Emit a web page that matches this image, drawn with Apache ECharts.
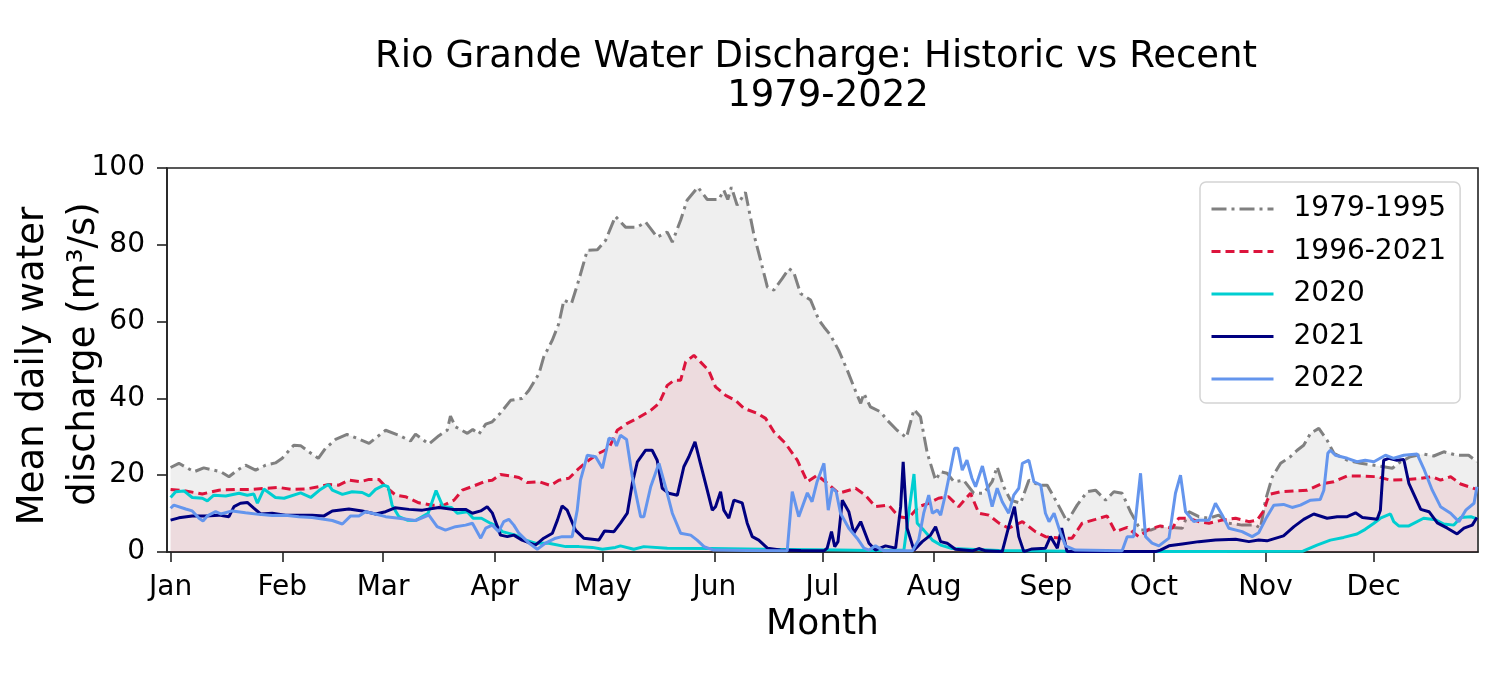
<!DOCTYPE html>
<html>
<head>
<meta charset="utf-8">
<script src="https://cdn.jsdelivr.net/npm/echarts@6/dist/echarts.min.js"></script>
<style>html,body{margin:0;padding:0;background:#fff}#c{width:1500px;height:675px}</style>
</head>
<body>
<div id="c"></div>
<script>
// ---- tick labels ----
const monthStarts = [0, 31, 59, 90, 120, 151, 181, 212, 243, 273, 304, 334];
const monthNames = ['Jan','Feb','Mar','Apr','May','Jun','Jul','Aug','Sep','Oct','Nov','Dec'];
const seriesNames = ['1979-1995', '1996-2021', '2020', '2021', '2022'];

// ---- data: [day of year, mean daily discharge m3/s] ----
const hist7995 = [[0,22.0],[2.3,23.1],[6.5,20.9],[9.2,21.9],[13.9,20.9],[16.2,19.6],[18.5,21.3],[20.8,22.6],[23.6,21.3],[26.4,22.6],[29.1,23.2],[31,24.4],[34.2,27.8],[36.1,27.7],[38.4,26.1],[41,24.4],[43,27.0],[45.8,29.3],[49,30.6],[51.8,29.6],[55.1,28.3],[57.4,30.0],[59.7,31.7],[63.4,30.4],[66.6,28.9],[68,30.7],[71.7,28.1],[74.5,30.3],[76.8,31.7],[77.7,35.4],[79.1,32.6],[82.4,30.9],[83.9,31.9],[85.6,30.7],[87.5,33.3],[89.3,33.9],[91.6,36.2],[94.4,39.5],[97.6,40.0],[99.5,42.1],[102.3,46.5],[103.6,50.8],[106,55.2],[107.8,59.5],[109.2,65.6],[111.3,64.7],[113.4,71.0],[115.7,78.6],[118.5,78.7],[120.8,81.2],[123.5,87.4],[126.3,84.6],[129.6,84.6],[131.9,85.9],[135.1,82.0],[137.9,83.3],[139.3,80.7],[141.6,86.4],[143.4,91.6],[146.4,95.0],[149,91.8],[152.2,91.8],[153.6,94.2],[154.7,91.8],[155.7,95.0],[157.3,90.3],[159.6,93.7],[161.9,82.9],[163.8,76.0],[165.7,69.0],[167.5,68.2],[169.8,71.2],[171.7,73.8],[173,72.9],[174.9,67.3],[177.7,65.6],[180,60.4],[181.4,58.6],[183.2,56.5],[185.5,52.5],[187.9,47.3],[189.7,43.0],[191.6,38.7],[192.5,41.3],[194.3,37.8],[197.1,36.5],[199,34.3],[201.7,31.7],[204.3,29.8],[206.4,37.1],[208.2,35.2],[210.1,25.7],[212.4,18.7],[213.8,20.9],[215.6,20.5],[217.5,18.3],[220.2,18.7],[223,15.3],[225.8,15.3],[228.1,18.3],[229.5,22.2],[231.3,17.0],[233.2,13.5],[236,12.7],[238.3,18.7],[241.1,17.4],[243.4,17.4],[246.2,12.7],[248.9,7.9],[251.7,12.2],[254.5,15.7],[256.8,16.1],[259.6,13.5],[261.9,15.7],[264.2,15.3],[266.5,10.5],[269.3,5.7],[272.1,5.7],[274.8,6.6],[278.1,6.4],[280.9,6.2],[282.7,10.5],[285.5,9.2],[288.3,8.8],[291,9.6],[293.8,7.5],[297.5,7.0],[301.2,7.0],[302.6,6.2],[304,13.5],[305.9,19.6],[308.2,23.1],[310.9,24.8],[312.8,26.5],[314.6,27.8],[316.5,30.9],[318.8,32.2],[321.1,29.1],[323,25.7],[326.7,23.9],[330.4,23.1],[334.1,22.6],[336.8,22.2],[339.2,21.8],[341.5,23.5],[344.2,24.8],[347.9,25.5],[350.7,25.0],[353.5,26.1],[357.2,25.2],[360.4,25.2],[362.7,23.5]];

const hist9621 = [[0,16.3],[4.2,15.9],[8.8,15.1],[13.4,16.1],[18,16.3],[22.7,16.3],[26.4,16.6],[30.1,16.8],[33.8,16.3],[37.5,16.4],[41.2,17.0],[43.9,17.6],[46.7,17.4],[49.5,18.7],[52.7,18.3],[55.1,18.9],[57.8,18.9],[60.2,16.6],[62.5,14.8],[65.2,14.4],[68.9,12.8],[72.6,12.2],[75.9,12.2],[78.7,13.5],[81,16.1],[84.2,17.2],[87.5,18.5],[89.3,18.7],[91.6,20.2],[94.4,19.8],[96.7,19.4],[99,18.1],[102.3,18.3],[105.5,17.3],[107.8,18.7],[110.6,19.2],[113.4,21.8],[116.1,23.9],[118.9,25.7],[121.7,27.0],[124,31.7],[126.8,33.5],[129.6,34.8],[133.3,36.9],[135.6,38.7],[137.9,43.4],[139.8,44.7],[141.6,44.7],[143,49.5],[145.3,51.2],[147.1,49.5],[149.4,47.3],[151.3,43.0],[154.1,40.8],[156.8,39.5],[159.2,37.4],[162.9,36.1],[165.2,34.8],[167.5,31.3],[170.7,28.3],[174,23.9],[176.8,18.3],[179.5,20.0],[181.8,18.3],[185.5,15.3],[190.2,16.6],[192.9,14.8],[195.7,11.8],[199.4,12.2],[202.2,9.2],[204.9,8.8],[207.7,11.8],[210.5,12.7],[213.2,14.0],[216,14.4],[218.8,11.8],[222.1,15.3],[224.4,10.1],[227.2,9.6],[230,7.5],[232.7,6.2],[236.5,7.9],[240.1,5.3],[242.9,4.0],[247.6,3.6],[250.3,3.6],[253.1,7.5],[256.8,8.5],[260,9.4],[262.3,5.3],[265.6,6.4],[268.8,4.0],[271.6,5.9],[274.8,6.8],[278.1,6.2],[279.9,8.8],[282.7,8.8],[285.5,7.9],[288.3,7.5],[292,8.3],[295.7,8.8],[299.4,7.9],[301.7,8.3],[303.6,10.9],[304.5,13.5],[305.4,15.1],[308.2,15.7],[311.9,15.9],[315.6,16.1],[319.4,17.7],[323,18.3],[326.7,19.8],[330.4,19.8],[335,19.6],[338.7,18.7],[343.4,18.9],[347.1,19.2],[350.3,19.6],[352.6,18.7],[355.4,19.6],[358.2,17.7],[362.7,16.3]];

const y2020 = [[0,14.2],[1.4,15.7],[3.7,15.9],[6,14.2],[8.8,14.0],[10.2,13.3],[12,14.8],[15.3,14.6],[19,15.3],[21.3,14.8],[23.1,15.1],[24.1,12.7],[25.9,16.4],[29.1,14.2],[31.5,14.0],[36.1,15.4],[38.9,14.2],[41.6,16.3],[43.8,17.6],[44.9,16.1],[47.7,15.0],[50.4,15.7],[53.2,15.5],[55.1,14.6],[56.9,16.3],[59.2,17.4],[60.4,17.0],[61.5,12.2],[63.4,9.2],[65.7,8.3],[68,8.2],[71.5,10.1],[73.7,16.0],[75.6,11.8],[78,11.6],[79.6,10.1],[82.4,10.5],[84,8.8],[86.3,8.8],[88.8,7.5],[90.7,6.6],[92.1,5.3],[95.8,4.4],[98.6,3.1],[101.3,2.3],[105,2.3],[109.7,1.4],[113.4,1.4],[117.1,1.2],[119.9,0.7],[123.5,1.2],[124.9,1.6],[128.6,0.7],[131.4,1.4],[137.9,1.0],[150,0.9],[165,0.7],[180,0.6],[195,0.4],[203.6,0.5],[206.4,20.3],[207.3,7.5],[209.1,5.7],[211.5,3.1],[213.8,1.8],[217,0.9],[230,0.4],[250,0.2],[270,0.1],[290,0.1],[314.4,0.2],[318.3,1.8],[322,3.1],[325.7,3.8],[329.4,4.7],[331.7,5.9],[334.1,7.5],[335.9,8.8],[338.7,9.9],[339.6,7.9],[341,6.8],[343.8,6.8],[347.9,8.8],[351.2,8.4],[353.5,7.3],[356.3,7.0],[358.2,9.0],[361,9.2],[362.7,8.6]];

const y2021 = [[0,8.3],[2.3,8.9],[6,9.4],[9.7,9.4],[13.4,9.6],[16.2,9.2],[17.6,11.8],[19.4,12.7],[21.3,12.9],[23.1,11.4],[25,9.9],[28.2,10.1],[31.9,9.6],[35.6,9.6],[39.3,9.6],[42.6,9.4],[44.9,10.7],[49.5,11.2],[53.2,10.7],[56.9,9.9],[59.7,10.5],[62.3,11.5],[66.2,11.1],[69.9,10.9],[74.5,11.6],[78.2,11.1],[81.9,11.1],[83.8,10.1],[86.1,10.7],[87.9,11.8],[89.3,10.2],[91.6,4.4],[93.5,4.0],[95.3,4.4],[97.6,3.1],[101.3,1.8],[103.6,3.6],[106,4.9],[107.4,8.3],[108.7,12.0],[110.1,10.9],[112.4,5.7],[114.7,3.6],[118.9,3.1],[120.5,5.5],[123.1,5.3],[124.9,7.5],[126.8,10.1],[128.2,17.9],[129.6,23.5],[131.9,26.5],[133.7,26.5],[135.1,23.9],[136.5,16.6],[138.3,15.3],[140.7,14.8],[142.5,22.2],[143.9,24.8],[145.6,28.7],[147.1,23.1],[149,16.1],[150.4,10.9],[151.3,11.8],[152.7,15.7],[153.6,10.9],[155,8.8],[156.4,13.5],[158.7,12.8],[160.1,7.5],[161.5,4.0],[163.3,3.1],[165.7,1.0],[169.3,0.5],[175,0.4],[181.4,0.3],[182.3,1.0],[183.5,5.3],[184.4,1.4],[185.3,2.7],[186.5,13.5],[188.3,10.5],[189.7,4.9],[191.6,7.9],[193.9,2.3],[195.7,0.5],[198.5,1.6],[201.3,1.0],[202.7,11.8],[203.4,23.5],[204.5,6.2],[206.4,0.5],[208.7,2.7],[211,4.4],[212.4,6.6],[213.8,2.7],[215.6,2.3],[217.9,0.7],[222.6,0.3],[224.4,0.9],[226.3,0.3],[230.9,0.1],[232.7,6.6],[234.3,11.8],[235.5,4.0],[236.9,0.1],[239.2,0.8],[242.9,1.0],[244.3,4.0],[246.2,1.0],[247.4,6.2],[248.9,0.1],[260,0.1],[273.5,0.1],[274.8,0.5],[277.2,1.6],[280.9,2.1],[285.5,2.7],[290.1,3.1],[295.7,3.3],[299.4,2.7],[302.1,3.1],[304.4,2.9],[309,4.2],[311.9,6.6],[314.6,8.5],[317.4,9.9],[321.1,8.8],[323.9,9.2],[326.7,9.2],[329,10.2],[330.9,9.0],[335,8.5],[335.9,10.9],[336.8,23.9],[338.2,24.4],[340.5,23.9],[342.4,24.1],[343.8,17.9],[347.1,11.1],[349.4,10.5],[351.7,7.6],[354.5,6.2],[357.2,4.7],[359.1,6.2],[361.4,7.0],[362.7,9.0]];

const y2022 = [[0,11.4],[0.9,12.2],[4.2,11.2],[6,10.7],[7.9,8.8],[9,8.1],[10.2,9.4],[12.5,10.5],[13.9,9.9],[17.1,10.7],[20.8,10.2],[24.5,9.8],[28.2,9.5],[31.9,9.6],[35.6,9.2],[39.3,9.0],[42.1,8.6],[44.9,8.2],[47.7,7.3],[50,9.4],[52.3,9.4],[54.1,10.5],[56.9,9.9],[59.7,9.2],[63.4,8.8],[68,8.2],[71.7,9.6],[74,6.6],[76.3,5.7],[79.1,6.6],[81.9,7.0],[83.8,7.5],[86.1,3.6],[87.5,6.2],[89.3,7.0],[91.1,5.3],[92.5,7.9],[93.9,8.5],[95.3,7.0],[96.7,4.9],[99.5,2.3],[101.8,0.7],[104.1,2.3],[106.9,3.6],[108.7,4.0],[111.5,4.0],[112.9,10.9],[113.8,18.7],[115.7,25.2],[118,24.8],[119.9,21.8],[121.7,29.6],[123.1,29.3],[123.8,27.6],[124.9,30.4],[126.6,29.3],[128.2,19.6],[130.5,9.2],[131.4,9.2],[133.3,17.0],[135.6,23.1],[137.4,17.0],[139.3,10.1],[141.6,4.9],[144.4,4.4],[146.2,3.1],[148.1,1.4],[150.8,0.5],[160,0.4],[171.2,0.3],[171.7,0.8],[172.6,15.7],[174.4,9.2],[176.8,15.4],[178.1,13.1],[179.5,18.3],[181.4,23.1],[182.6,10.9],[183.7,16.6],[184.8,15.7],[186,10.1],[188.3,6.2],[190.6,3.6],[192.5,1.0],[193.9,0.5],[195.7,1.6],[198,0.3],[206,0.3],[207.7,3.1],[209.1,10.1],[210.5,14.8],[211.5,10.1],[212.9,10.9],[213.8,9.6],[215.2,15.3],[216.5,21.3],[217.7,27.0],[218.6,27.0],[219.8,21.3],[221.1,23.9],[222.5,19.2],[223.5,17.0],[225.4,22.4],[226.7,17.4],[228.1,11.8],[229.5,16.6],[230.9,13.1],[232.7,10.1],[234.1,14.8],[235.5,16.6],[236.5,23.1],[238.3,23.9],[239.7,18.3],[241.6,17.4],[242.9,10.1],[243.9,7.9],[245.3,10.1],[247.1,4.9],[248.5,1.6],[251.2,0.5],[264.2,0.3],[265.6,4.0],[267.4,4.0],[269.3,20.5],[270.7,4.0],[272.5,2.3],[274.4,1.6],[277.2,3.6],[279,15.3],[280.4,20.0],[281.8,10.5],[284.1,7.9],[285.5,8.3],[288.3,8.3],[290.1,12.7],[292,9.6],[293.8,6.2],[297.5,5.3],[300.3,4.0],[302.1,5.0],[304,8.5],[306.3,12.2],[309,12.4],[311.4,11.6],[313.7,12.2],[316.5,13.5],[319.2,13.7],[320.2,16.1],[321.3,25.7],[322,26.5],[323.4,25.2],[326.7,24.4],[329.4,23.5],[331.7,23.9],[334.1,23.5],[337.3,25.2],[339.6,24.4],[342.4,25.2],[346.1,25.5],[347.9,21.8],[350.3,16.1],[352.6,11.8],[355.4,10.1],[357.7,7.9],[359.6,10.9],[361.9,12.7],[362.7,17.0]];

const FONT = 'DejaVu Sans';
const LINE_W = 3;
const chart = echarts.init(document.getElementById('c'), null, {renderer: 'canvas'});

function lineSeries(name, data, color, dash, area, z) {
  const ls = {color: color, width: LINE_W};
  if (dash) ls.type = dash;
  const s = {
    name: name, type: 'line', data: data, symbol: 'none', showSymbol: false, z: z,
    lineStyle: ls,
    itemStyle: {color: color}
  };
  if (area) s.areaStyle = {color: area, opacity: 1};
  return s;
}

const option = {
  animation: false,
  backgroundColor: '#ffffff',
  grid: {left: 167, right: 22, top: 168, bottom: 123, show: true, borderColor: '#222', borderWidth: 1.6, backgroundColor: 'transparent'},
  xAxis: {
    type: 'value', min: -1, max: 363,
    axisLine: {show: true, onZero: false, lineStyle: {color: '#222', width: 1.6}},
    axisTick: {show: true, length: 10, customValues: monthStarts, lineStyle: {color: '#222', width: 1.6}},
    axisLabel: {customValues: monthStarts, formatter: function (v) { return monthNames[monthStarts.indexOf(v)]; },
      fontSize: 28, fontFamily: FONT, color: '#000', margin: 22},
    splitLine: {show: false},
    name: 'Month', nameLocation: 'middle', nameGap: 44,
    nameTextStyle: {fontSize: 36, fontFamily: FONT, color: '#000'}
  },
  yAxis: {
    type: 'value', min: 0, max: 100, interval: 20,
    axisLine: {show: true, onZero: false, lineStyle: {color: '#222', width: 1.6}},
    axisTick: {show: true, length: 10, lineStyle: {color: '#222', width: 1.6}},
    axisLabel: {fontSize: 28, fontFamily: FONT, color: '#000', margin: 22},
    splitLine: {show: false}
  },
  legend: {
    orient: 'vertical', left: 1200, top: 182,
    itemWidth: 62, itemHeight: 14, itemGap: 12.5,
    padding: [12, 14, 9, 10],
    itemStyle: {opacity: 0},
    lineStyle: {width: LINE_W},
    backgroundColor: 'rgba(255,255,255,0.85)', borderColor: '#d4d4d4', borderWidth: 1.5, borderRadius: 6,
    textStyle: {fontSize: 28, fontFamily: FONT, color: '#000', lineHeight: 30, padding: [0, 0, 0, 15]},
    data: seriesNames
  },
  graphic: [
    {type: 'text', x: 816, y: 57, style: {text: 'Rio Grande Water Discharge: Historic vs Recent', font: '37px "DejaVu Sans"', fill: '#000', textAlign: 'center', textVerticalAlign: 'middle'}},
    {type: 'text', x: 828, y: 96, style: {text: '1979-2022', font: '37px "DejaVu Sans"', fill: '#000', textAlign: 'center', textVerticalAlign: 'middle'}},
    {type: 'text', x: 33, y: 366, rotation: Math.PI / 2, style: {text: 'Mean daily water', font: '37px "DejaVu Sans"', fill: '#000', textAlign: 'center', textVerticalAlign: 'middle'}},
    {type: 'text', x: 84, y: 354, rotation: Math.PI / 2, style: {text: 'discharge (m\u00B3/s)', font: '37px "DejaVu Sans"', fill: '#000', textAlign: 'center', textVerticalAlign: 'middle'}}
  ],
  series: [
    lineSeries(seriesNames[0], hist7995, '#808080', [15, 5, 3, 5], 'rgba(128,128,128,0.13)', 2),
    lineSeries(seriesNames[1], hist9621, '#dc143c', [9, 5], 'rgba(220,20,60,0.09)', 3),
    lineSeries(seriesNames[2], y2020, '#00ced1', null, null, 4),
    lineSeries(seriesNames[3], y2021, '#000080', null, null, 5),
    lineSeries(seriesNames[4], y2022, '#6495ed', null, null, 6)
  ]
};
chart.setOption(option);
</script>
</body>
</html>
